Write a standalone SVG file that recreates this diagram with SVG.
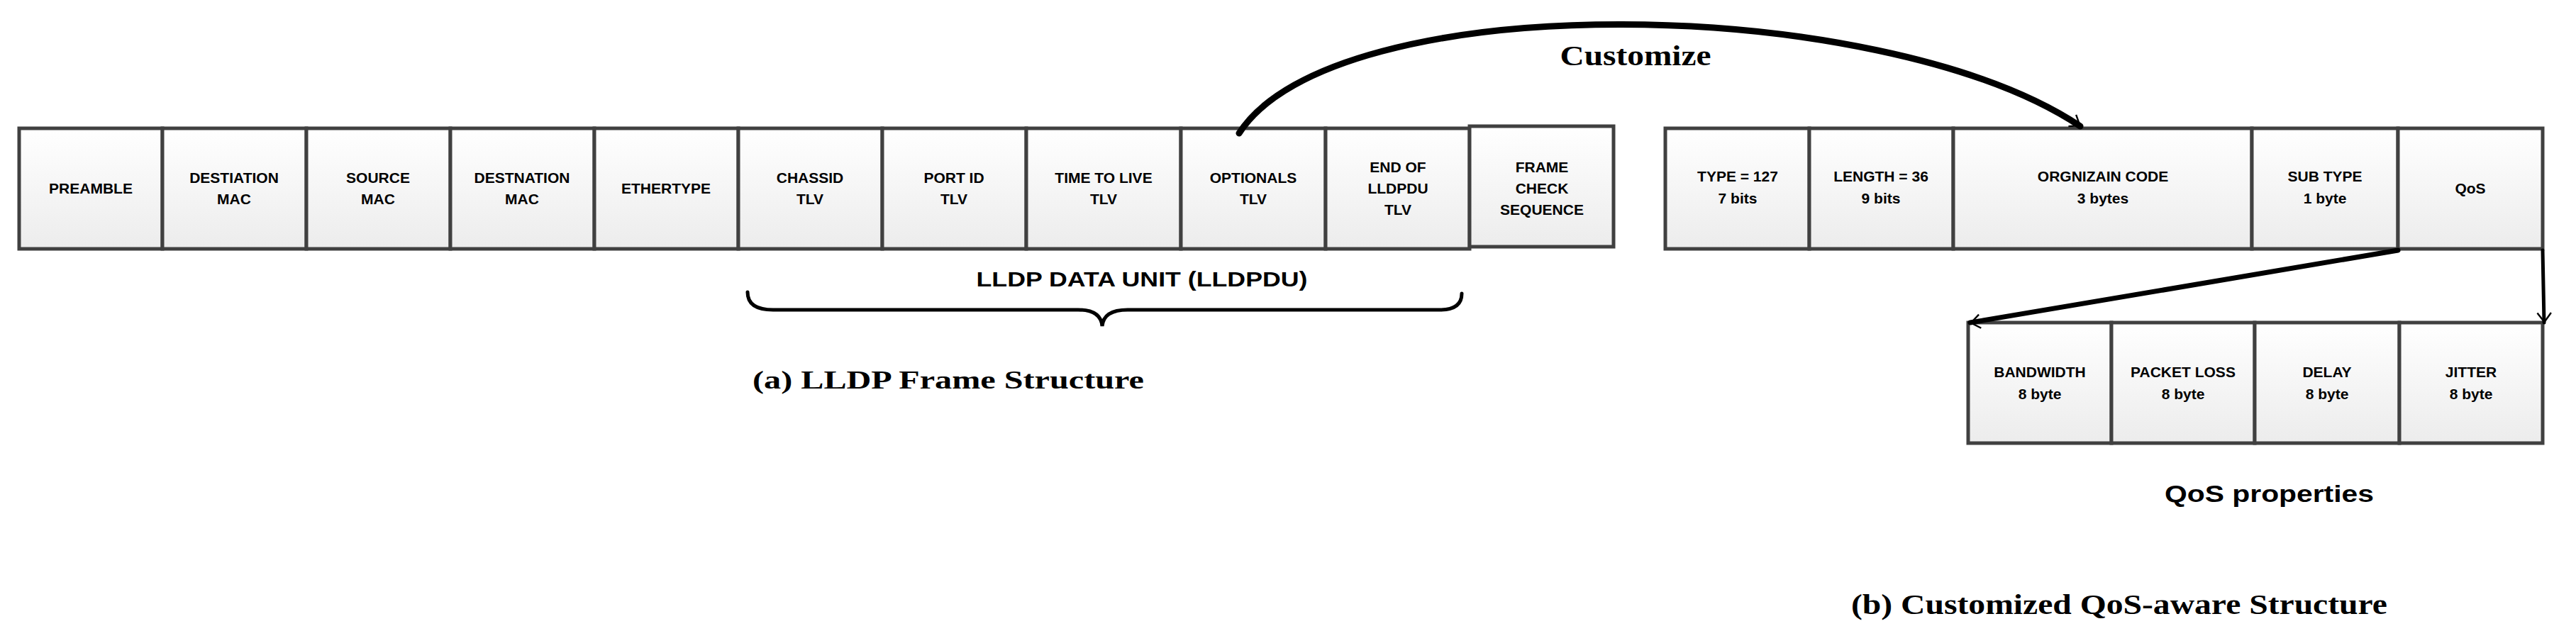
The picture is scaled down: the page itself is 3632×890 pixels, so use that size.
<svg xmlns="http://www.w3.org/2000/svg" width="3632" height="890" viewBox="0 0 3632 890">
<defs>
<linearGradient id="g" x1="0" y1="0" x2="0" y2="1"><stop offset="0" stop-color="#ffffff"/><stop offset="1" stop-color="#ececec"/></linearGradient>
<marker id="ah" viewBox="0 0 20 20" refX="18" refY="10" markerWidth="9" markerHeight="9" orient="auto" markerUnits="userSpaceOnUse" overflow="visible">
<path d="M-14,-14 L18,10 L-14,34" fill="none" stroke="#000" stroke-width="6" transform="scale(0.9)"/>
</marker>
</defs>
<style>
.c{fill:url(#g);stroke:#404040;stroke-width:5}
.t{font-family:"Liberation Sans",Arial,sans-serif;font-weight:bold;font-size:21px;text-anchor:middle;fill:#000}
.s{font-family:"Liberation Serif","Times New Roman",serif;font-weight:bold;fill:#000}
.k{fill:none;stroke:#000;stroke-linecap:round}
</style>
<rect width="3632" height="890" fill="#fff"/>
<g id="frame">
<g id="preamble"><rect class="c" x="27" y="181" width="202" height="170"/><text class="t" x="128" y="273">PREAMBLE</text></g>
<g id="dmac"><rect class="c" x="229" y="181" width="203" height="170"/><text class="t" x="330" y="258">DESTIATION</text><text class="t" x="330" y="288">MAC</text></g>
<g id="smac"><rect class="c" x="432" y="181" width="203" height="170"/><text class="t" x="533" y="258">SOURCE</text><text class="t" x="533" y="288">MAC</text></g>
<g id="dmac2"><rect class="c" x="635" y="181" width="203" height="170"/><text class="t" x="736" y="258">DESTNATION</text><text class="t" x="736" y="288" font-weight="normal">MAC</text></g>
<g id="ethertype"><rect class="c" x="838" y="181" width="203" height="170"/><text class="t" x="939" y="273">ETHERTYPE</text></g>
<g id="chassis"><rect class="c" x="1041" y="181" width="203" height="170"/><text class="t" x="1142" y="258">CHASSID</text><text class="t" x="1142" y="288">TLV</text></g>
<g id="port"><rect class="c" x="1244" y="181" width="203" height="170"/><text class="t" x="1345" y="258">PORT ID</text><text class="t" x="1345" y="288">TLV</text></g>
<g id="ttl"><rect class="c" x="1447" y="181" width="218" height="170"/><text class="t" x="1556" y="258">TIME TO LIVE</text><text class="t" x="1556" y="288">TLV</text></g>
<g id="optionals"><rect class="c" x="1665" y="181" width="204" height="170"/><text class="t" x="1767" y="258">OPTIONALS</text><text class="t" x="1767" y="288">TLV</text></g>
<g id="end"><rect class="c" x="1869" y="181" width="203" height="170"/><text class="t" x="1971" y="243">END OF</text><text class="t" x="1971" y="273">LLDPDU</text><text class="t" x="1971" y="303">TLV</text></g>
<g id="fcs"><rect class="c" x="2072" y="178" width="203" height="170"/><text class="t" x="2174" y="243">FRAME</text><text class="t" x="2174" y="273">CHECK</text><text class="t" x="2174" y="303">SEQUENCE</text></g>
</g>
<g id="custom">
<g id="type"><rect class="c" x="2348" y="181" width="203" height="170"/><text class="t" x="2450" y="256">TYPE = 127</text><text class="t" x="2450" y="287" font-weight="normal">7 bits</text></g>
<g id="length"><rect class="c" x="2551" y="181" width="203" height="170"/><text class="t" x="2652" y="256">LENGTH = 36</text><text class="t" x="2652" y="287" font-weight="normal">9 bits</text></g>
<g id="org"><rect class="c" x="2754" y="181" width="421" height="170"/><text class="t" x="2965" y="256">ORGNIZAIN CODE</text><text class="t" x="2965" y="287" font-weight="normal">3 bytes</text></g>
<g id="subtype"><rect class="c" x="3175" y="181" width="206" height="170"/><text class="t" x="3278" y="256">SUB TYPE</text><text class="t" x="3278" y="287" font-weight="normal">1 byte</text></g>
<g id="qos"><rect class="c" x="3381" y="181" width="204" height="170"/><text class="t" x="3483" y="273">QoS</text></g>
</g>
<g id="props">
<g id="bw"><rect class="c" x="2775" y="455" width="202" height="170"/><text class="t" x="2876" y="532">BANDWIDTH</text><text class="t" x="2876" y="563" font-weight="normal">8 byte</text></g>
<g id="pl"><rect class="c" x="2977" y="455" width="202" height="170"/><text class="t" x="3078" y="532">PACKET LOSS</text><text class="t" x="3078" y="563" font-weight="normal">8 byte</text></g>
<g id="delay"><rect class="c" x="3179" y="455" width="204" height="170"/><text class="t" x="3281" y="532">DELAY</text><text class="t" x="3281" y="563" font-weight="normal">8 byte</text></g>
<g id="jitter"><rect class="c" x="3383" y="455" width="202" height="170"/><text class="t" x="3484" y="532">JITTER</text><text class="t" x="3484" y="563" font-weight="normal">8 byte</text></g>
</g>
<g id="connectors">
<path class="k" stroke-width="9" d="M1747,188 C1880,-20 2650,-10 2933,178" marker-end="url(#ah)"/>
<path class="k" stroke-width="7" d="M3381,353 L2778,455" marker-end="url(#ah)"/>
<path class="k" stroke-width="5" d="M3585,353 L3587,455" marker-end="url(#ah)"/>
<path class="k" stroke-width="5" d="M1054,412 Q1054,437 1090,437 L1520,437 Q1552,437 1554,460 Q1556,437 1590,437 L2030,437 Q2061,437 2061,414"/>
</g>
<g id="labels">
<text class="s" x="2306" y="92" font-size="40" text-anchor="middle" textLength="213" lengthAdjust="spacingAndGlyphs">Customize</text>
<text x="1610" y="404" font-family="Liberation Sans,Arial,sans-serif" font-weight="bold" font-size="30" text-anchor="middle" textLength="467" lengthAdjust="spacingAndGlyphs">LLDP DATA UNIT (LLDPDU)</text>
<text class="s" x="1061" y="548" font-size="36" textLength="552" lengthAdjust="spacingAndGlyphs">(a) LLDP Frame Structure</text>
<text x="3052" y="708" font-family="Liberation Sans,Arial,sans-serif" font-weight="bold" font-size="34" textLength="295" lengthAdjust="spacingAndGlyphs">QoS properties</text>
<text class="s" x="2610" y="866" font-size="40" textLength="756" lengthAdjust="spacingAndGlyphs">(b) Customized QoS-aware Structure</text>
</g>
</svg>
